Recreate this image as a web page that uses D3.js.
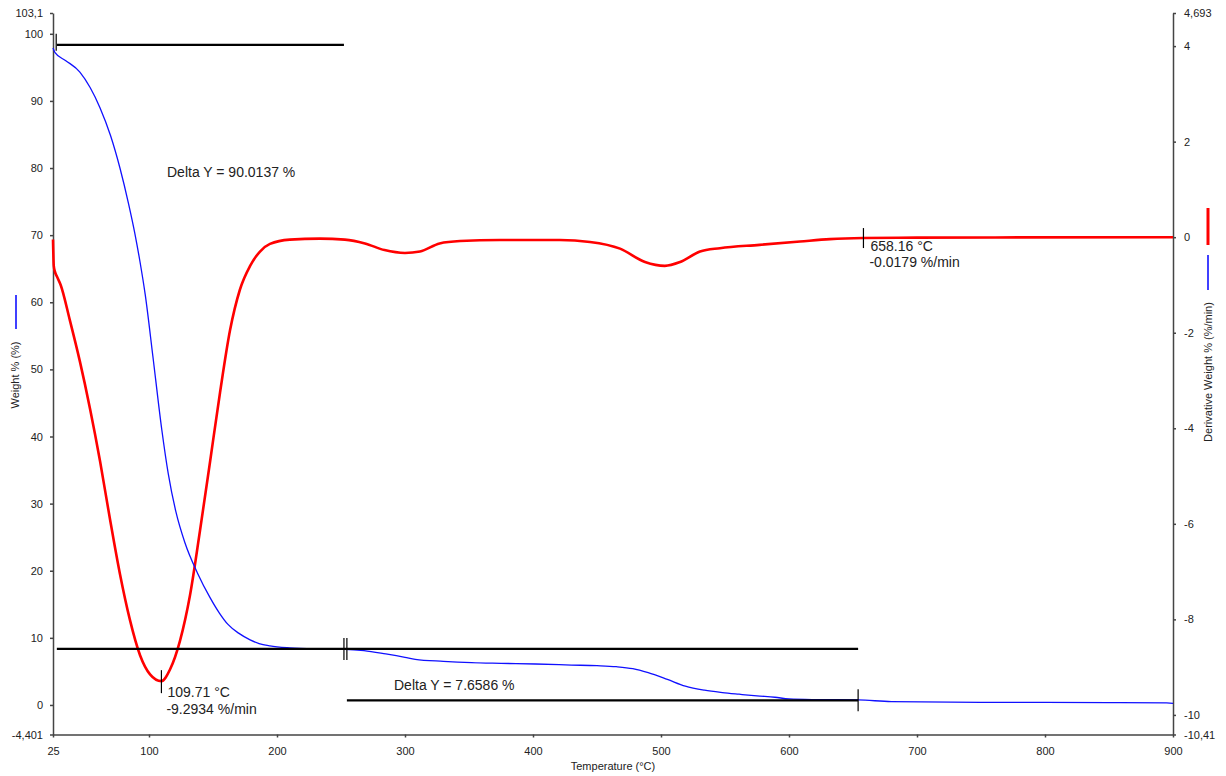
<!DOCTYPE html>
<html>
<head>
<meta charset="utf-8">
<script src="https://cdn.jsdelivr.net/npm/d3@7/dist/d3.min.js"></script>
<style>
  html, body { margin: 0; padding: 0; background: #fff; }
  svg { display: block; font-family: "Liberation Sans", Arial, sans-serif; }
  .tick text { fill: #222; font-size: 11px; }
  .axis path, .axis line { stroke: #444; stroke-width: 1.5; }
</style>
</head>
<body>
<svg id="chart" width="1226" height="776"></svg>
<script>
// TGA run: weight loss (left axis) and its derivative (right axis) vs temperature
const weightTemp = [25, 26.6, 35, 46, 54, 61.7, 70, 77.3, 84, 89, 93, 97, 103, 110, 115, 121, 128, 138,
  147.7, 155, 161.7, 170, 179, 186, 194.5, 210, 230, 253, 268, 285, 300, 308, 330, 352, 375, 402, 430,
  450, 465, 478, 490, 505, 519, 534, 548, 561, 575, 589, 600, 620, 654, 680, 750, 850, 895, 900];
const weightPct = [97.9, 97.2, 96.0, 94.3, 92.0, 89.0, 84.8, 80.0, 74.7, 70.2, 66.0, 61.2, 52.0, 41.0,
  34.5, 28.8, 24.2, 19.6, 16.0, 13.7, 12.0, 10.7, 9.7, 9.15, 8.8, 8.5, 8.35, 8.3, 8.1, 7.6, 7.1, 6.8, 6.5,
  6.3, 6.2, 6.1, 5.95, 5.85, 5.7, 5.4, 4.8, 3.8, 2.8, 2.2, 1.85, 1.6, 1.35, 1.15, 0.9, 0.8, 0.75, 0.5,
  0.4, 0.35, 0.3, 0.25];

const derivTemp = [25, 25.6, 26.5, 28, 31, 38, 46, 54, 61.7, 69.5, 77.3, 85, 93, 100.8, 109.71, 116.4,
  124.2, 132, 139.8, 147.7, 155.5, 163.3, 171, 179, 186.7, 194.5, 210, 233.6, 253, 268.7, 284, 300,
  311.7, 327, 343, 374, 421, 444.5, 468, 487.5, 503, 515, 530.5, 546, 577, 608.6, 632, 658.16, 700, 900];
const derivPct = [-0.05, -0.6, -0.72, -0.82, -1.0, -1.72, -2.6, -3.6, -4.68, -5.9, -7.05, -8.0, -8.75,
  -9.15, -9.2934, -9.05, -8.45, -7.5, -6.15, -4.7, -3.25, -1.95, -1.1, -0.6, -0.3, -0.14, -0.05, -0.03,
  -0.05, -0.13, -0.27, -0.33, -0.3, -0.13, -0.08, -0.06, -0.06, -0.1, -0.24, -0.52, -0.6, -0.52, -0.3,
  -0.23, -0.16, -0.09, -0.04, -0.0179, -0.01, 0];

// axis ticks
const xTicks = [25, 100, 200, 300, 400, 500, 600, 700, 800, 900];
const leftTicks = [-4.401, 0, 10, 20, 30, 40, 50, 60, 70, 80, 90, 100, 103.1];
const leftTickLabels = ["-4,401", "0", "10", "20", "30", "40", "50", "60", "70", "80", "90", "100", "103,1"];
const rightTicks = [-10.41, -10, -8, -6, -4, -2, 0, 2, 4, 4.693];
const rightTickLabels = ["-10,41", "-10", "-8", "-6", "-4", "-2", "0", "2", "4", "4,693"];

// step analysis and peak readouts
const stepUpper = 98.36;
const stepOne = 90.0137;
const stepTwo = 7.6586;
const peakMin = { t: 109.71, d: -9.2934 };
const peakEnd = { t: 658.16, d: -0.0179 };

const svg = d3.select("#chart");

const x = d3.scaleLinear().domain([25, 900]).range([53, 1173]);
const yL = d3.scaleLinear().domain([-4.401, 103.1]).range([734.5, 13]);
const yR = d3.scaleLinear().domain([-10.41, 4.693]).range([734.5, 13]);

// axes
svg.append("g").attr("class", "axis")
  .attr("transform", `translate(0,${yL.range()[0]})`)
  .call(d3.axisBottom(x).tickValues(xTicks).tickFormat(d3.format("d"))
    .tickSize(3).tickSizeOuter(0).tickPadding(10));

svg.append("g").attr("class", "axis")
  .attr("transform", `translate(${x.range()[0]},0)`)
  .call(d3.axisLeft(yL).tickValues(leftTicks)
    .tickFormat((d, i) => leftTickLabels[i]).tickSize(3).tickSizeOuter(0).tickPadding(7));

svg.append("g").attr("class", "axis")
  .attr("transform", `translate(${x.range()[1]},0)`)
  .call(d3.axisRight(yR).tickValues(rightTicks)
    .tickFormat((d, i) => rightTickLabels[i]).tickSize(3).tickSizeOuter(0).tickPadding(8));

svg.selectAll(".axis .domain").attr("stroke", "#444");

// axis titles with series swatches
svg.append("text").attr("x", 613).attr("y", 770).attr("text-anchor", "middle")
  .attr("font-size", 11).attr("fill", "#222").text("Temperature (°C)");

svg.append("text").attr("transform", "translate(19,375) rotate(-90)")
  .attr("text-anchor", "middle").attr("font-size", 11).attr("fill", "#222").text("Weight % (%)");
svg.append("line").attr("x1", 16).attr("x2", 16).attr("y1", 295).attr("y2", 329)
  .attr("stroke", "#0000ff").attr("stroke-width", 1.5);

svg.append("text").attr("transform", "translate(1212,372) rotate(-90)")
  .attr("text-anchor", "middle").attr("font-size", 11).attr("fill", "#222")
  .text("Derivative Weight % (%/min)");
svg.append("line").attr("x1", 1208).attr("x2", 1208).attr("y1", 208).attr("y2", 245)
  .attr("stroke", "#ff0000").attr("stroke-width", 3);
svg.append("line").attr("x1", 1208).attr("x2", 1208).attr("y1", 255).attr("y2", 290)
  .attr("stroke", "#0000ff").attr("stroke-width", 1.5);

// curves
const weightLine = d3.line().x(d => x(d[0])).y(d => yL(d[1])).curve(d3.curveMonotoneX);
const derivLine = d3.line().x(d => x(d[0])).y(d => yR(d[1])).curve(d3.curveMonotoneX);

svg.append("path").datum(d3.zip(derivTemp, derivPct))
  .attr("d", derivLine).attr("fill", "none").attr("stroke", "#ff0000")
  .attr("stroke-width", 2.6).attr("stroke-linejoin", "round");

svg.append("path").datum(d3.zip(weightTemp, weightPct))
  .attr("d", weightLine).attr("fill", "none").attr("stroke", "#1010ff")
  .attr("stroke-width", 1.3);

// step-change construction lines
const stepMid = stepUpper - stepOne;
const stepLow = stepMid - stepTwo;
const g = svg.append("g").attr("stroke", "#000");
const seg = (t1, t2, w, sw) => g.append("line")
  .attr("x1", x(t1)).attr("x2", x(t2)).attr("y1", yL(w)).attr("y2", yL(w)).attr("stroke-width", sw);
const vtick = (t, yc, up, down) => g.append("line")
  .attr("x1", x(t)).attr("x2", x(t)).attr("y1", yc - up).attr("y2", yc + down).attr("stroke-width", 1.2);

seg(28, 252.3, stepUpper, 2.2);
vtick(27.5, yL(stepUpper), 11, 6);
seg(28, 654, stepMid, 2.2);
vtick(252.3, yL(stepMid), 11, 11);
vtick(254.6, yL(stepMid), 11, 11);
seg(254.6, 654, stepLow, 2.2);
vtick(654, yL(stepLow), 11, 11);

// peak markers
vtick(peakMin.t, yR(peakMin.d), 11, 12);
vtick(peakEnd.t, yR(peakEnd.d), 10, 10);

// annotation text
const ann = svg.append("g").attr("font-size", 14).attr("fill", "#222");
ann.append("text").attr("x", 167).attr("y", 177).text(`Delta Y = ${stepOne.toFixed(4)} %`);
ann.append("text").attr("x", 394).attr("y", 690).text(`Delta Y = ${stepTwo.toFixed(4)} %`);
ann.append("text").attr("x", x(peakMin.t) + 6).attr("y", yR(peakMin.d) + 16)
  .text(`${peakMin.t.toFixed(2)} °C`);
ann.append("text").attr("x", x(peakMin.t) + 5).attr("y", yR(peakMin.d) + 33)
  .text(`${peakMin.d.toFixed(4)} %/min`);
ann.append("text").attr("x", x(peakEnd.t) + 7).attr("y", yR(peakEnd.d) + 13)
  .text(`${peakEnd.t.toFixed(2)} °C`);
ann.append("text").attr("x", x(peakEnd.t) + 6).attr("y", yR(peakEnd.d) + 29)
  .text(`${peakEnd.d.toFixed(4)} %/min`);
</script>
</body>
</html>
